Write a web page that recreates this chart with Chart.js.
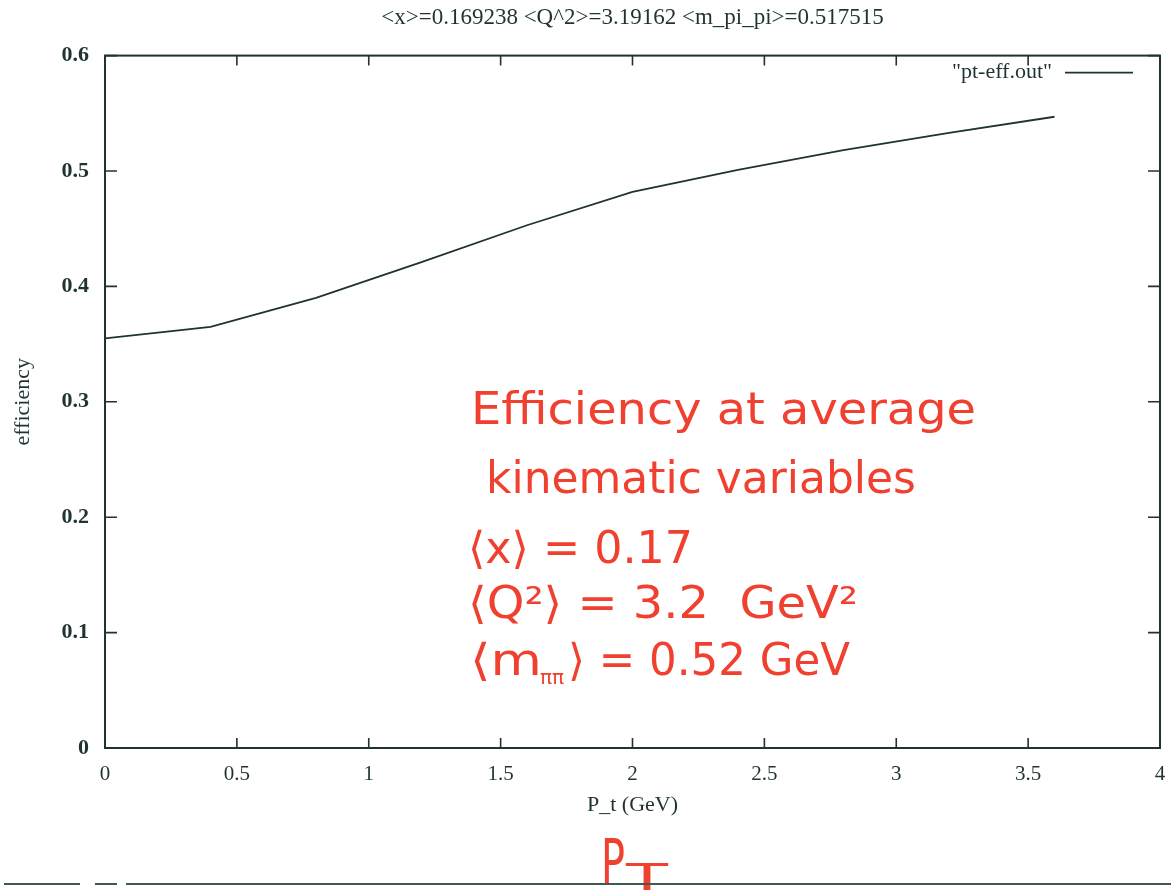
<!DOCTYPE html>
<html>
<head>
<meta charset="utf-8">
<script src="https://cdn.jsdelivr.net/npm/chart.js@4.4.1/dist/chart.umd.min.js"></script>
<style>
  html, body { margin: 0; padding: 0; background: #fff; }
</style>
</head>
<body>
<canvas id="graf" width="1171" height="894"></canvas>
<script>
// eficiencia en funcion de P_t, salida de pt-eff.out
const ptValues  = [0, 0.4, 0.8, 1.2, 1.6, 2.0, 2.4, 2.8, 3.2, 3.6];
const effValues = [0.355, 0.365, 0.390, 0.421, 0.453, 0.482, 0.501, 0.518, 0.533, 0.547];
const titulo = '<x>=0.169238 <Q^2>=3.19162 <m_pi_pi>=0.517515';
const serieNombre = '"pt-eff.out"';
const ejeX = 'P_t (GeV)';
const ejeY = 'efficiency';
// notas a mano en rojo
const notas = ['Efficiency at average', 'kinematic variables', '\u27e8x\u27e9 = 0.17', '\u27e8Q\u00b2\u27e9 = 3.2  GeV\u00b2'];
const notaMasa = ['\u27e8m', '\u03c0\u03c0', '\u27e9 = 0.52 GeV'];

const tinta = '#1f3333';
const rojo = '#f0402f';
const serif = "'Liberation Serif', 'DejaVu Serif', serif";
const mano = "'DejaVu Sans', sans-serif";

function textoAncho(ctx, txt, x, y, ancho) {
  const w = ctx.measureText(txt).width;
  ctx.save();
  ctx.translate(x, y);
  ctx.scale(ancho / w, 1);
  ctx.fillText(txt, 0, 0);
  ctx.restore();
}

const marco = {
  id: 'marco',
  beforeDatasetsDraw(chart) {
    const { ctx, chartArea: a, scales } = chart;
    ctx.save();
    ctx.strokeStyle = tinta;
    ctx.lineWidth = 2;
    ctx.strokeRect(a.left, a.top, a.right - a.left, a.bottom - a.top);
    ctx.lineWidth = 1.6;
    ctx.beginPath();
    scales.y.ticks.forEach(t => {
      const py = scales.y.getPixelForValue(t.value);
      ctx.moveTo(a.left, py); ctx.lineTo(a.left + 12, py);
      ctx.moveTo(a.right, py); ctx.lineTo(a.right - 12, py);
    });
    scales.x.ticks.forEach(t => {
      const px = scales.x.getPixelForValue(t.value);
      ctx.moveTo(px, a.bottom); ctx.lineTo(px, a.bottom - 10);
      ctx.moveTo(px, a.top); ctx.lineTo(px, a.top + 10);
    });
    ctx.stroke();
    ctx.restore();
  },
  afterDraw(chart) {
    const { ctx, chartArea: a } = chart;
    const ds = chart.data.datasets[0];
    ctx.save();
    // leyenda dentro del grafico
    ctx.font = '22px ' + serif;
    ctx.fillStyle = tinta;
    ctx.textAlign = 'right';
    ctx.textBaseline = 'middle';
    ctx.fillText(ds.label, a.right - 108, a.top + 17);
    ctx.strokeStyle = ds.borderColor;
    ctx.lineWidth = ds.borderWidth;
    ctx.beginPath();
    ctx.moveTo(a.right - 95, a.top + 17);
    ctx.lineTo(a.right - 27, a.top + 17);
    ctx.stroke();

    // anotaciones
    ctx.fillStyle = rojo;
    ctx.textAlign = 'left';
    ctx.textBaseline = 'alphabetic';
    ctx.font = '44px ' + mano;
    textoAncho(ctx, notas[0], 471, 424, 505);
    textoAncho(ctx, notas[1], 486, 493, 430);
    textoAncho(ctx, notas[2], 468, 563, 225);
    textoAncho(ctx, notas[3], 468, 618, 390);
    textoAncho(ctx, notaMasa[0], 470, 675, 72);
    ctx.font = '20px ' + mano;
    ctx.fillText(notaMasa[1], 540, 684);
    ctx.font = '44px ' + mano;
    textoAncho(ctx, notaMasa[2], 568, 675, 282);
    ctx.font = '62px ' + mano;
    textoAncho(ctx, 'P', 601, 883, 24);
    ctx.font = '38px ' + mano;
    textoAncho(ctx, 'T', 626, 890, 42);

    // linea del borde inferior de la hoja
    ctx.strokeStyle = '#3d5a58';
    ctx.lineWidth = 2;
    ctx.beginPath();
    [[4, 80], [95, 117], [126, 1171]].forEach(([x0, x1]) => {
      ctx.moveTo(x0, 884); ctx.lineTo(x1, 884);
    });
    ctx.stroke();
    ctx.restore();
  }
};

const cnv = document.getElementById('graf');
new Chart(cnv, {
  type: 'line',
  data: {
    datasets: [{
      label: serieNombre,
      data: ptValues.map((v, i) => ({ x: v, y: effValues[i] })),
      borderColor: tinta,
      borderWidth: 1.8,
      pointRadius: 0,
      tension: 0,
      fill: false
    }]
  },
  options: {
    responsive: false,
    animation: false,
    devicePixelRatio: 1,
    layout: { padding: { top: 0, right: 11, bottom: 66, left: 0 } },
    scales: {
      x: {
        type: 'linear', min: 0, max: 4,
        grid: { display: false, drawTicks: false },
        border: { display: false },
        ticks: {
          stepSize: 0.5, color: tinta, padding: 14,
          font: { family: serif, size: 21 },
          callback: v => String(v)
        },
        title: { display: true, text: ejeX, color: tinta, padding: { top: 4, bottom: 10 }, font: { family: serif, size: 22 } },
        afterFit: s => { s.height = 80; s.paddingRight = 0; s.paddingLeft = 0; }
      },
      y: {
        min: 0, max: 0.6,
        grid: { display: false, drawTicks: false },
        border: { display: false },
        ticks: {
          stepSize: 0.1, color: tinta, padding: 16,
          font: { family: serif, size: 22, weight: 'bold' },
          callback: v => String(Math.round(v * 10) / 10)
        },
        title: { display: true, text: ejeY, color: tinta, padding: { top: 10, bottom: 0 }, font: { family: serif, size: 22 } },
        afterFit: s => { s.width = 105; }
      }
    },
    plugins: {
      legend: { display: false },
      tooltip: { enabled: false },
      title: {
        display: true, text: titulo, fullSize: false, color: tinta,
        font: { family: serif, size: 23, weight: 'normal' },
        padding: { top: 4, bottom: 24 }
      }
    }
  },
  plugins: [marco]
});
</script>
</body>
</html>
